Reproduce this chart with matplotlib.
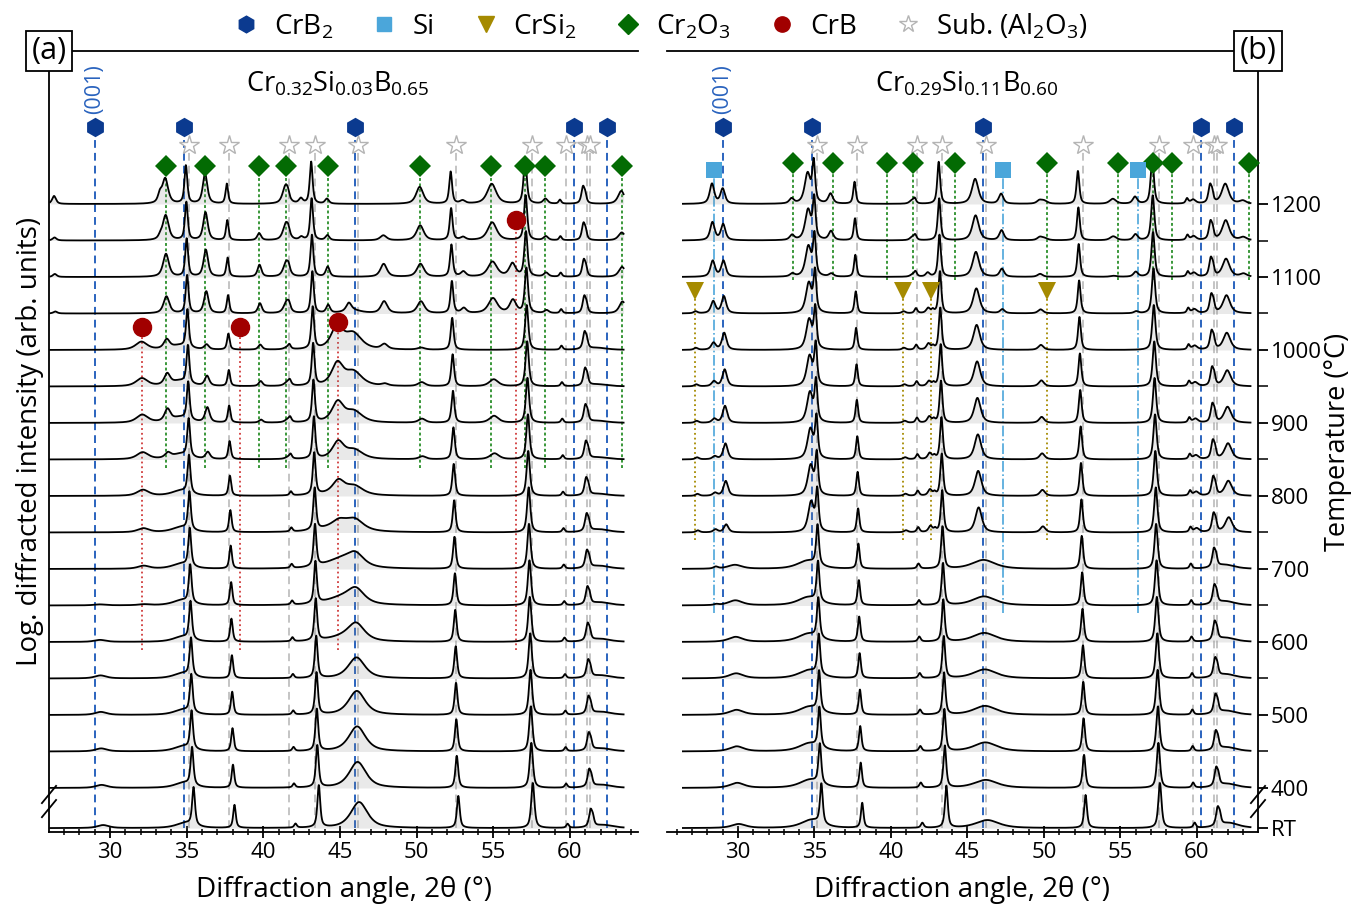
import numpy as np
import matplotlib
matplotlib.use('Agg')
import matplotlib.pyplot as plt
from matplotlib.lines import Line2D
from matplotlib.ticker import MultipleLocator, FixedLocator

plt.rcParams['font.family'] = ['Open Sans', 'DejaVu Sans']
plt.rcParams['mathtext.fontset'] = 'custom'
plt.rcParams['mathtext.rm'] = 'Open Sans'
plt.rcParams['mathtext.it'] = 'Open Sans:italic'
plt.rcParams['mathtext.bf'] = 'Open Sans:bold'
plt.rcParams['mathtext.default'] = 'regular'

# ---------------- data ----------------
TEMP_LABELS = ['RT', '400', '450', '500', '550', '600', '650', '700', '750', '800',
               '850', '900', '950', '1000', '1050', '1100', '1150', '1200']
TEMP_LEVELS = [345, 400, 450, 500, 550, 600, 650, 700, 750, 800,
               850, 900, 950, 1000, 1050, 1100, 1150, 1200]   # RT drawn below the axis break
TICK_VALUES = [345, 400, 500, 600, 700, 800, 900, 1000, 1100, 1200]
TICK_LABELS = ['RT', '400', '500', '600', '700', '800', '900', '1000', '1100', '1200']
# thermal peak shift (deg 2theta) of each pattern relative to the 1200 C pattern
PEAK_SHIFT = [0.50, 0.40, 0.37, 0.35, 0.33, 0.30, 0.28, 0.25, 0.23, 0.20,
              0.18, 0.15, 0.13, 0.10, 0.08, 0.05, 0.03, 0.00]

# panel (a): Cr0.32Si0.03B0.65 -- peak position (1200 C ref), FWHM, log-height per temperature
A_POS = [34.95, 37.62, 41.60, 43.12, 52.22, 57.08, 59.35, 60.85, 61.00,
         29.05, 34.40, 45.75, 44.80, 61.70, 31.95, 44.70,
         33.60, 36.20, 39.70, 41.45, 44.15, 50.20, 54.90, 58.40, 63.35,
         26.35, 47.80, 53.00, 56.20, 42.45, 33.25, 45.50]
A_FWHM = [0.22, 0.20, 0.20, 0.22, 0.22, 0.25, 0.20, 0.25, 0.20,
          0.90, 1.40, 1.30, 2.40, 1.50, 0.90, 0.90,
          0.45, 0.35, 0.30, 0.45, 0.30, 0.55, 0.70, 0.35, 0.50,
          0.30, 0.50, 0.40, 0.50, 0.30, 0.30, 0.40]
A_HEIGHT = [
    [38] * 18,
    [23, 23, 23, 23, 23, 23, 23, 23, 22, 20, 18, 17, 16, 16, 18, 19, 20, 20],
    [4] * 18,
    [42] * 18,
    [32] * 18,
    [45] * 18,
    [4] * 18,
    [16] * 18,
    [7] * 18,
    [3, 3, 3, 3, 3, 2, 1, 0, 0, 0, 0, 0, 0, 0, 0, 0, 0, 0],
    [5, 5, 5, 5, 5, 5, 5, 5, 5, 5, 5, 5, 5, 4, 0, 0, 0, 0],
    [26, 26, 25, 24, 21, 17, 14, 12, 9, 8, 9, 11, 14, 16, 3, 0, 0, 0],
    [0, 0, 0, 0, 0, 4, 7, 9, 8, 3, 0, 0, 0, 0, 0, 0, 0, 0],
    [3, 3, 3, 3, 3, 3, 3, 3, 3, 2, 2, 2, 2, 2, 0, 0, 0, 0],
    [0, 0, 0, 0, 0, 0, 1, 3, 4, 6, 7, 8, 8, 8, 0, 0, 0, 0],
    [0, 0, 0, 0, 0, 0, 0, 0, 4, 12, 17, 20, 22, 22, 0, 0, 0, 0],
    [0, 0, 0, 0, 0, 0, 0, 0, 0, 0, 5, 12, 11, 9, 17, 23, 25, 25],
    [0, 0, 0, 0, 0, 0, 0, 0, 0, 0, 7, 15, 10, 5, 22, 27, 28, 30],
    [0, 0, 0, 0, 0, 0, 0, 0, 0, 0, 0, 3, 5, 5, 10, 12, 7, 0],
    [0, 0, 0, 0, 0, 0, 0, 0, 0, 0, 2, 3, 4, 2, 12, 15, 17, 18],
    [0, 0, 0, 0, 0, 0, 0, 0, 0, 0, 0, 0, 0, 0, 8, 10, 5, 5],
    [0, 0, 0, 0, 0, 0, 0, 0, 0, 0, 3, 4, 4, 2, 12, 13, 15, 17],
    [0, 0, 0, 0, 0, 0, 0, 0, 0, 0, 6, 7, 7, 0, 15, 15, 18, 20],
    [0, 0, 0, 0, 0, 0, 0, 0, 0, 0, 0, 0, 0, 0, 3, 4, 4, 5],
    [0, 0, 0, 0, 0, 0, 0, 0, 0, 0, 0, 0, 0, 0, 12, 10, 8, 13],
    [0, 0, 0, 0, 0, 0, 0, 0, 0, 0, 0, 0, 0, 0, 2, 3, 3, 8],
    [0, 0, 0, 0, 0, 0, 0, 0, 0, 0, 0, 0, 2, 5, 12, 13, 5, 0],
    [0, 0, 0, 0, 0, 0, 0, 0, 0, 0, 0, 0, 0, 0, 5, 5, 3, 3],
    [0, 0, 0, 0, 0, 0, 0, 0, 0, 0, 0, 0, 0, 0, 13, 13, 0, 0],
    [0, 0, 0, 0, 0, 0, 0, 0, 0, 0, 0, 0, 0, 0, 0, 0, 3, 5],
    [0, 0, 0, 0, 0, 0, 0, 0, 0, 0, 0, 0, 0, 0, 0, 0, 3, 8],
    [0, 0, 0, 0, 0, 0, 0, 0, 0, 0, 0, 0, 0, 0, 8, 0, 0, 0],
]

# panel (b): Cr0.29Si0.11B0.60
B_POS = [34.95, 37.62, 41.55, 43.12, 52.22, 57.08, 59.35, 60.85, 61.00,
         29.55, 34.30, 45.80, 61.60,
         29.00, 34.55, 45.50, 59.75, 61.85, 63.00,
         28.30, 47.20, 55.95,
         27.15, 40.75, 42.35, 42.65, 49.70,
         33.50, 36.05, 41.35, 54.50, 50.00]
B_FWHM = [0.22, 0.20, 0.22, 0.22, 0.22, 0.25, 0.20, 0.25, 0.20,
          1.10, 1.60, 1.80, 1.50,
          0.35, 0.45, 0.50, 0.40, 0.55, 0.50,
          0.35, 0.35, 0.35,
          0.30, 0.30, 0.30, 0.20, 0.40,
          0.35, 0.35, 0.35, 0.50, 0.50]
B_HEIGHT = [
    [40] * 18,
    [25, 25, 25, 25, 25, 25, 25, 25, 24, 24, 23, 23, 22, 22, 22, 22, 22, 22],
    [5] * 18,
    [42] * 18,
    [33] * 18,
    [45] * 18,
    [5] * 18,
    [17] * 18,
    [8] * 18,
    [4, 5, 5, 5, 5, 5, 5, 4, 0, 0, 0, 0, 0, 0, 0, 0, 0, 0],
    [8, 8, 8, 8, 8, 8, 8, 8, 0, 0, 0, 0, 0, 0, 0, 0, 0, 0],
    [8, 8, 9, 9, 9, 9, 9, 9, 0, 0, 0, 0, 0, 0, 0, 0, 0, 0],
    [5, 4, 4, 4, 4, 4, 4, 4, 0, 0, 0, 0, 0, 0, 0, 0, 0, 0],
    [0, 0, 0, 0, 0, 0, 0, 0, 8, 15, 16, 17, 17, 17, 17, 16, 16, 15],
    [0, 0, 0, 0, 0, 0, 0, 0, 30, 30, 30, 30, 30, 30, 30, 30, 30, 30],
    [0, 0, 0, 0, 0, 0, 0, 0, 25, 25, 25, 25, 25, 25, 25, 25, 25, 25],
    [0, 0, 0, 0, 0, 0, 0, 0, 4, 4, 4, 4, 4, 4, 4, 4, 4, 4],
    [0, 0, 0, 0, 0, 0, 0, 0, 15, 15, 16, 16, 16, 17, 18, 18, 20, 20],
    [0, 0, 0, 0, 0, 0, 0, 0, 0, 0, 0, 0, 0, 0, 0, 3, 3, 3],
    [0, 0, 0, 0, 0, 0, 1, 2, 3, 3, 3, 4, 5, 7, 12, 16, 18, 20],
    [0, 0, 0, 0, 0, 0, 0, 0, 0, 0, 0, 0, 0, 0, 4, 8, 10, 10],
    [0, 0, 0, 0, 0, 0, 0, 0, 0, 0, 0, 0, 0, 0, 2, 5, 6, 7],
    [0, 0, 0, 0, 0, 0, 0, 0, 2, 2, 2, 2, 2, 2, 2, 0, 0, 0],
    [0, 0, 0, 0, 0, 0, 0, 0, 2, 2, 2, 2, 2, 2, 2, 0, 0, 0],
    [0, 0, 0, 0, 0, 0, 0, 0, 6, 6, 6, 6, 5, 6, 5, 4, 0, 0],
    [0, 0, 0, 0, 0, 0, 0, 0, 3, 3, 3, 3, 3, 3, 3, 0, 0, 0],
    [0, 0, 0, 0, 0, 0, 0, 0, 6, 6, 6, 6, 6, 5, 4, 3, 3, 3],
    [0, 0, 0, 0, 0, 0, 0, 0, 0, 0, 0, 0, 0, 0, 0, 3, 5, 5],
    [0, 0, 0, 0, 0, 0, 0, 0, 0, 0, 0, 0, 0, 0, 0, 3, 9, 10],
    [0, 0, 0, 0, 0, 0, 0, 0, 0, 0, 0, 0, 0, 0, 0, 2, 3, 3],
    [0, 0, 0, 0, 0, 0, 0, 0, 0, 0, 0, 0, 0, 0, 0, 1, 4, 5],
    [0, 0, 0, 0, 0, 0, 0, 0, 0, 0, 0, 0, 0, 0, 0, 0, 2, 3],
]

# reference phase positions (deg 2theta)
CRB2_REF = [29.0, 34.85, 46.0, 60.25, 62.42]
SAPPHIRE_REF = [35.15, 37.78, 41.68, 43.36, 46.18, 52.55, 57.50, 59.74, 61.12, 61.30]
CR2O3_REF = [33.62, 36.2, 39.75, 41.45, 44.2, 50.2, 54.87, 57.1, 58.4, 63.42]
CRB_REF = [32.1, 38.45, 44.9, 56.5]
SI_REF = [28.44, 47.30, 56.12]
CRSI2_REF = [27.2, 40.8, 42.6, 50.2]

# ---------------- style / layout ----------------
W, H = 1352, 909
PX = 100.0 / 73.0           # y data units per pixel
C_CRB2 = '#0b3a8f'
C_CRB2_LINE = '#2a63be'
C_SI = '#4ba6da'
C_CRSI2 = '#a58a00'
C_CR2O3 = '#036b03'
C_CR2O3_LINE = '#2a8f2a'
C_CRB = '#a10000'
C_CRB_LINE = '#d03a3a'
C_SUB = '#b4b4b4'
C_SUB_LINE = '#c4c4c4'
FS_LABEL = 20
FS_TICK = 16


def profile(x, pos, fwhm, eta=0.7):
    d = (x - pos) / (fwhm / 2.0)
    return eta / (1.0 + d ** 2) + (1 - eta) * np.exp(-np.log(2) * d ** 2)


fig = plt.figure(figsize=(W / 100, H / 100), dpi=100)
axA = fig.add_axes([49 / W, 1 - 832 / H, 589 / W, 781 / H])
axB = fig.add_axes([667 / W, 1 - 832 / H, 591 / W, 781 / H])

YMIN, YMAX = 339.7, 1409.6


def draw_curves(ax, pos, fwhm, heights, xr):
    x = np.linspace(xr[0], xr[1], 2200)
    for i, base in enumerate(TEMP_LEVELS):
        s = np.zeros_like(x)
        for p, w, h in zip(pos, fwhm, heights):
            if h[i] > 0:
                s += h[i] * profile(x, p + PEAK_SHIFT[i], w)
        y = base + PX * s
        ax.fill_between(x, base, y, color='#8a8a8a', alpha=0.18, lw=0, zorder=2)
        ax.plot(x, y, color='black', lw=1.3, zorder=3)


def vlines(ax, xs, ytop, ybot, color, ls, lw):
    for xv in xs:
        ax.plot([xv, xv], [ybot, ytop], color=color, ls=ls, lw=lw, zorder=1)


def markers(ax, xs, y, marker, color, ms, mfc=None, mew=0):
    ax.plot(xs, [y] * len(xs), ls='none', marker=marker, ms=ms, color=color,
            mfc=mfc if mfc else color, mec=color, mew=mew, zorder=5, clip_on=False)


Y_HEX = 400 + (788 - 127) * PX
Y_STAR = 400 + (788 - 145) * PX
Y_DIA_A = 400 + (788 - 166) * PX
Y_DIA_B = 400 + (788 - 163) * PX
Y_SI = 400 + (788 - 170) * PX
Y_CRSI2 = 400 + (788 - 291) * PX
Y_RT = 345
Y_GREEN_END_A = 400 + (788 - 468) * PX
Y_GREEN_END_B = 400 + (788 - 280) * PX
Y_RED_END = 400 + (788 - 650) * PX
Y_SI_END = 400 + (788 - 613) * PX
Y_CRSI2_END = 400 + (788 - 540) * PX
Y_CRB_MARK = [400 + (788 - 327) * PX, 400 + (788 - 327) * PX,
              400 + (788 - 322) * PX, 400 + (788 - 220) * PX]
Y_001 = 400 + (788 - 89) * PX

dash_blue = (0, (4, 2.6))
dash_gray = (0, (4, 2.6))
dot_green = (0, (1.6, 1.4))

# ---- panel (a)
vlines(axA, CRB2_REF, Y_HEX, Y_RT, C_CRB2_LINE, dash_blue, 1.4)
vlines(axA, SAPPHIRE_REF, Y_STAR, Y_RT, C_SUB_LINE, dash_gray, 1.4)
vlines(axA, CR2O3_REF, Y_DIA_A, Y_GREEN_END_A, C_CR2O3_LINE, dot_green, 1.3)
for xv, yv in zip(CRB_REF, Y_CRB_MARK):
    axA.plot([xv, xv], [Y_RED_END, yv], color=C_CRB_LINE, ls=':', lw=1.3, zorder=1)
draw_curves(axA, A_POS, A_FWHM, A_HEIGHT, (26.1, 63.5))
markers(axA, SAPPHIRE_REF, Y_STAR, '*', C_SUB, 15, mfc='white', mew=1.0)
markers(axA, CR2O3_REF, Y_DIA_A, 'D', C_CR2O3, 11)
markers(axA, CRB2_REF, Y_HEX, 'h', C_CRB2, 14)
for xv, yv in zip(CRB_REF, Y_CRB_MARK):
    axA.plot([xv], [yv], ls='none', marker='o', ms=13, color=C_CRB, zorder=5)

# ---- panel (b)
vlines(axB, CRB2_REF, Y_HEX, Y_RT, C_CRB2_LINE, dash_blue, 1.4)
vlines(axB, SAPPHIRE_REF, Y_STAR, Y_RT, C_SUB_LINE, dash_gray, 1.4)
vlines(axB, CR2O3_REF, Y_DIA_B, Y_GREEN_END_B, C_CR2O3_LINE, dot_green, 1.3)
vlines(axB, SI_REF, Y_SI, Y_SI_END, C_SI, '-.', 1.2)
vlines(axB, CRSI2_REF, Y_CRSI2, Y_CRSI2_END, C_CRSI2, ':', 1.3)
draw_curves(axB, B_POS, B_FWHM, B_HEIGHT, (26.4, 63.5))
markers(axB, SAPPHIRE_REF, Y_STAR, '*', C_SUB, 15, mfc='white', mew=1.0)
markers(axB, CR2O3_REF, Y_DIA_B, 'D', C_CR2O3, 11)
markers(axB, CRB2_REF, Y_HEX, 'h', C_CRB2, 14)
markers(axB, SI_REF, Y_SI, 's', C_SI, 11)
markers(axB, CRSI2_REF, Y_CRSI2, 'v', C_CRSI2, 13)

# ---- axes styling
for ax, xl in ((axA, (26.02, 64.44)), (axB, (25.36, 63.99))):
    ax.set_xlim(*xl)
    ax.set_ylim(YMIN, YMAX)
    ax.xaxis.set_major_locator(FixedLocator([30, 35, 40, 45, 50, 55, 60]))
    ax.xaxis.set_minor_locator(MultipleLocator(1))
    ax.tick_params(axis='x', which='major', direction='inout', length=9, width=1.3,
                   labelsize=FS_TICK, pad=3)
    ax.tick_params(axis='x', which='minor', direction='inout', length=5, width=1.1)
    ax.set_xlabel('Diffraction angle, 2θ (°)', fontsize=FS_LABEL)
    ax.xaxis.set_label_coords(0.5, -0.056)
    for s in ax.spines.values():
        s.set_linewidth(1.3)
    ax.text(29.0, Y_001, '(001)', rotation=90, ha='center', va='center',
            color=C_CRB2_LINE, fontsize=15.5)

axA.spines['right'].set_visible(False)
axA.set_yticks([])
axA.set_ylabel('Log. diffracted intensity (arb. units)', fontsize=FS_LABEL)
axA.yaxis.set_label_coords(-0.008, 0.5)

axB.spines['left'].set_visible(False)
axB.yaxis.tick_right()
axB.yaxis.set_label_position('right')
axB.set_yticks(TICK_VALUES)
axB.set_yticklabels(TICK_LABELS)
axB.yaxis.set_minor_locator(FixedLocator([v for v in TEMP_LEVELS if v not in TICK_VALUES]))
axB.tick_params(axis='y', which='major', direction='out', length=7, width=1.3,
                labelsize=FS_TICK, pad=2)
axB.tick_params(axis='y', which='minor', direction='out', length=7, width=1.1)
axB.set_ylabel('Temperature (°C)', fontsize=19.5, rotation=90)
axB.yaxis.set_label_coords(1.111, 0.5)

axA.text(0.49, 0.958, 'Cr$_{0.32}$Si$_{0.03}$B$_{0.65}$', transform=axA.transAxes,
         ha='center', va='center', fontsize=19.5)
axB.text(0.508, 0.958, 'Cr$_{0.29}$Si$_{0.11}$B$_{0.60}$', transform=axB.transAxes,
         ha='center', va='center', fontsize=19.5)

box = dict(boxstyle='square,pad=0.17', fc='white', ec='black', lw=1.3)
axA.text(0.0, 1.0, '(a)', transform=axA.transAxes, ha='center', va='center',
         fontsize=22, bbox=box, zorder=10, clip_on=False)
axB.text(1.0, 1.0, '(b)', transform=axB.transAxes, ha='center', va='center',
         fontsize=22, bbox=box, zorder=10, clip_on=False)

# axis-break marks
for ax, xc in ((axA, 0.0), (axB, 1.0)):
    for yc in (0.048, 0.030):
        ax.plot([xc - 0.012, xc + 0.012], [yc - 0.011, yc + 0.011], transform=ax.transAxes,
                color='black', lw=1.3, clip_on=False, zorder=10)

# legend
handles = [
    Line2D([], [], ls='none', marker='h', ms=12, color=C_CRB2),
    Line2D([], [], ls='none', marker='s', ms=10, color=C_SI),
    Line2D([], [], ls='none', marker='v', ms=11, color=C_CRSI2),
    Line2D([], [], ls='none', marker='D', ms=10, color=C_CR2O3),
    Line2D([], [], ls='none', marker='o', ms=11, color=C_CRB),
    Line2D([], [], ls='none', marker='*', ms=13, color=C_SUB, mfc='white', mew=1.0),
]
labels = ['CrB$_2$', 'Si', 'CrSi$_2$', 'Cr$_2$O$_3$', 'CrB', 'Sub. (Al$_2$O$_3$)']
fig.legend(handles, labels, loc='center', bbox_to_anchor=(0.488, 0.971), ncol=6,
           frameon=False, fontsize=20, handletextpad=0.5, columnspacing=1.35,
           handlelength=1.0)

fig.savefig('out.png', dpi=100)
